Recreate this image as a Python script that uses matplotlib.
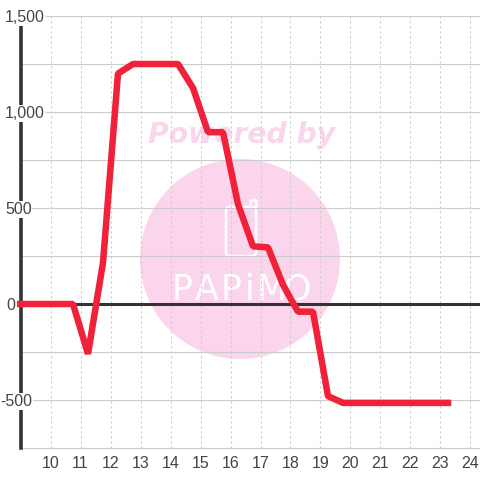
import matplotlib
matplotlib.use('Agg')
import matplotlib.pyplot as plt
from matplotlib.patches import Circle, FancyBboxPatch
from matplotlib.transforms import Affine2D

# half hour values
hours = [8.75, 9.25, 9.75, 10.25, 10.75, 11.25, 11.75, 12.25, 12.75, 13.25, 13.75, 14.25,
         14.75, 15.25, 15.75, 16.25, 16.75, 17.25, 17.75, 18.25, 18.75, 19.25, 19.75,
         20.25, 20.75, 21.25, 21.75, 22.25, 22.75, 23.25]
values = [0, 0, 0, 0, 0, -260, 215, 1200, 1250, 1250, 1250, 1250,
          1125, 895, 895, 520, 300, 295, 100, -40, -40, -480, -515,
          -515, -515, -515, -515, -515, -515, -515]
x_ticks = list(range(10, 25))
y_ticks = [-500, 0, 500, 1000, 1500]
y_tick_labels = ['-500', '0', '500', '1,000', '1,500']
grid_levels = [-750, -500, -250, 250, 500, 750, 1000, 1250, 1500]
watermark_letters = ['P', 'A', 'P', 'i', 'M', 'O']
watermark_letter_x = [182, 207, 231, 250, 272, 298]

plt.rcParams['font.family'] = ['Liberation Sans', 'DejaVu Sans']

fig = plt.figure(figsize=(4.8, 4.8), dpi=100, facecolor='white')

# watermark sits behind the chart, in pixel coordinates
bg = fig.add_axes([0, 0, 1, 1], zorder=0)
bg.set_xlim(0, 480)
bg.set_ylim(480, 0)
bg.axis('off')
pink = '#fbd5ec'
bg.add_patch(Circle((240, 259), 100, fc=pink, ec='none'))
bg.text(241.5, 135, 'Powered by', color=pink, family='DejaVu Sans', fontsize=20.3,
        fontweight='bold', fontstyle='italic', ha='center', va='center')
bg.add_patch(FancyBboxPatch((226, 207), 30, 49, boxstyle='round,pad=0,rounding_size=4',
                            fc='none', ec='white', lw=1.8))
bg.plot([250, 250, 256, 256], [207, 200, 200, 207], color='white', lw=1.8)
for letter, lx in zip(watermark_letters, watermark_letter_x):
    bg.text(lx, 290, letter, color='white', fontsize=25, ha='center', va='center',
            family=['Liberation Sans Narrow', 'DejaVu Sans'])

# main axes, left edge a bit before the y axis line so the series can overhang
ax = fig.add_axes([17 / 480, 32 / 480, 463 / 480, 432 / 480], zorder=1)
ax.patch.set_alpha(0)
ax.set_xlim(9 - 3.5 / 30, 9 + 459.5 / 30)
ax.set_ylim(-750, 1500)

ax.hlines(grid_levels, 9, 25, color='#cccccc', lw=0.8, zorder=1, clip_on=False)
ax.set_xticks(x_ticks)
ax.set_yticks(y_ticks)
ax.set_yticklabels(y_tick_labels)
ax.grid(axis='x', color='#cccccc', lw=0.8, linestyle=(0, (2, 2.5)))
ax.xaxis.set_zorder(0.5)
ax.tick_params(length=0, labelsize=11.5, labelcolor='#444444')
ax.tick_params(axis='x', pad=5.5)
ax.tick_params(axis='y', pad=11.2)

for s in ['top', 'right', 'bottom']:
    ax.spines[s].set_visible(False)
ax.spines['left'].set_position(('data', 9))
ax.spines['left'].set_color('#333333')
ax.spines['left'].set_linewidth(2.6)
ax.spines['left'].set_zorder(1.5)
ax.axhline(0, color='#333333', lw=2.2, zorder=2)

# labels start at the same left edge and blank out the axis line behind them
nudges = {'-500': -4.5, '0': 1.5}
for lab in ax.get_yticklabels():
    lab.set_ha('left')
    lab.set_bbox(dict(facecolor='white', edgecolor='none', pad=0.6))
    dx = nudges.get(lab.get_text(), 0)
    if dx:
        lab.set_transform(lab.get_transform() + Affine2D().translate(dx, 0))

ax.plot(hours, values, color='#f02138', lw=4.7, solid_joinstyle='bevel', solid_capstyle='projecting', zorder=5)

plt.savefig('out.png', dpi=100)
plt.close()
